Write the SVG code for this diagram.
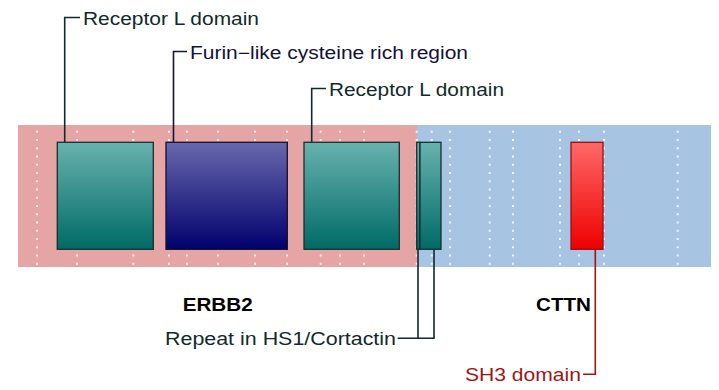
<svg xmlns="http://www.w3.org/2000/svg" width="719" height="390" viewBox="0 0 719 390">
<defs>
<linearGradient id="gTeal" x1="0" y1="0" x2="0" y2="1"><stop offset="0" stop-color="#68b2af"/><stop offset="1" stop-color="#006a66"/></linearGradient>
<linearGradient id="gBlue" x1="0" y1="0" x2="0" y2="1"><stop offset="0" stop-color="#6868ac"/><stop offset="1" stop-color="#00006e"/></linearGradient>
<linearGradient id="gRed" x1="0" y1="0" x2="0" y2="1"><stop offset="0" stop-color="#ff6868"/><stop offset="1" stop-color="#ee0000"/></linearGradient>
</defs>
<style>
.dots line{stroke:#ffffff;stroke-width:2;stroke-dasharray:2 6.25;opacity:0.85}
.lbl{font-family:"Liberation Sans",Arial,sans-serif;font-size:17.5px}
.gene{font-family:"Liberation Sans",Arial,sans-serif;font-size:18px;font-weight:bold;fill:#000}
.lead{fill:none;stroke-width:1.6}
</style>
<rect width="719" height="390" fill="#ffffff"/>
<g id="bar">
<rect x="18" y="125" width="399" height="142" fill="#e5a5a5"/>
<rect x="417" y="125" width="294" height="142" fill="#a8c4e3"/>
</g>
<g class="dots">
<line x1="37" y1="130.7" x2="37" y2="266"/>
<line x1="77" y1="130.7" x2="77" y2="266"/>
<line x1="133.3" y1="130.7" x2="133.3" y2="266"/>
<line x1="169" y1="130.7" x2="169" y2="266"/>
<line x1="187" y1="130.7" x2="187" y2="266"/>
<line x1="218" y1="130.7" x2="218" y2="266"/>
<line x1="255" y1="130.7" x2="255" y2="266"/>
<line x1="287" y1="130.7" x2="287" y2="266"/>
<line x1="320.7" y1="130.7" x2="320.7" y2="266"/>
<line x1="340" y1="130.7" x2="340" y2="266"/>
<line x1="364" y1="130.7" x2="364" y2="266"/>
<line x1="416.7" y1="130.7" x2="416.7" y2="266"/>
<line x1="431.7" y1="130.7" x2="431.7" y2="266"/>
<line x1="450" y1="130.7" x2="450" y2="266"/>
<line x1="489.7" y1="130.7" x2="489.7" y2="266"/>
<line x1="513" y1="130.7" x2="513" y2="266"/>
<line x1="560" y1="130.7" x2="560" y2="266"/>
<line x1="579" y1="130.7" x2="579" y2="266"/>
<line x1="604" y1="130.7" x2="604" y2="266"/>
<line x1="677.7" y1="130.7" x2="677.7" y2="266"/>
</g>
<g id="connectors">
<polyline class="lead" stroke="#0f2a2a" points="64.7,142.5 64.7,17.5 80,17.5"/>
<polyline class="lead" stroke="#14143a" points="173.5,142.5 173.5,51.5 187,51.5"/>
<polyline class="lead" stroke="#0f2a2a" points="311.7,142.5 311.7,88.5 326,88.5"/>
<polyline class="lead" stroke="#0f2a2a" points="418,249 418,338.3 397.7,338.3"/>
<polyline class="lead" stroke="#0f2a2a" points="434,249 434,338.3 418,338.3"/>
<polyline class="lead" stroke="#a01414" points="595.3,249 595.3,374.3 583,374.3"/>
</g>
<g id="receptor-l-1">
<rect x="57.3" y="142.3" width="96" height="107" fill="url(#gTeal)" stroke="#15302e" stroke-width="1.3"/>
<text class="lbl" x="83" y="25" fill="#0f2a2a" textLength="176" lengthAdjust="spacingAndGlyphs">Receptor L domain</text>
</g>
<g id="furin">
<rect x="166" y="142.3" width="121.3" height="107" fill="url(#gBlue)" stroke="#101030" stroke-width="1.3"/>
<text class="lbl" x="190" y="58.5" fill="#12123a" textLength="278" lengthAdjust="spacingAndGlyphs">Furin−like cysteine rich region</text>
</g>
<g id="receptor-l-2">
<rect x="304" y="142.3" width="95.3" height="107" fill="url(#gTeal)" stroke="#15302e" stroke-width="1.3"/>
<text class="lbl" x="329" y="95.7" fill="#0f2a2a" textLength="175" lengthAdjust="spacingAndGlyphs">Receptor L domain</text>
</g>
<g id="repeat-hs1">
<rect x="416.7" y="142.3" width="3.3" height="107" fill="url(#gTeal)" stroke="#15302e" stroke-width="1.3"/>
<rect x="420" y="142.3" width="21" height="107" fill="url(#gTeal)" stroke="#15302e" stroke-width="1.3"/>
<text class="lbl" x="165" y="344.5" fill="#0f2a2a" textLength="231" lengthAdjust="spacingAndGlyphs">Repeat in HS1/Cortactin</text>
</g>
<g id="sh3">
<rect x="571" y="142.3" width="32" height="107" fill="url(#gRed)" stroke="#9a0e0e" stroke-width="1.3"/>
<text class="lbl" x="465" y="380.7" fill="#a01414" textLength="116" lengthAdjust="spacingAndGlyphs">SH3 domain</text>
</g>
<g id="erbb2"><text class="gene" x="182.7" y="311" textLength="70" lengthAdjust="spacingAndGlyphs">ERBB2</text></g>
<g id="cttn"><text class="gene" x="536" y="311" textLength="55" lengthAdjust="spacingAndGlyphs">CTTN</text></g>
</svg>
